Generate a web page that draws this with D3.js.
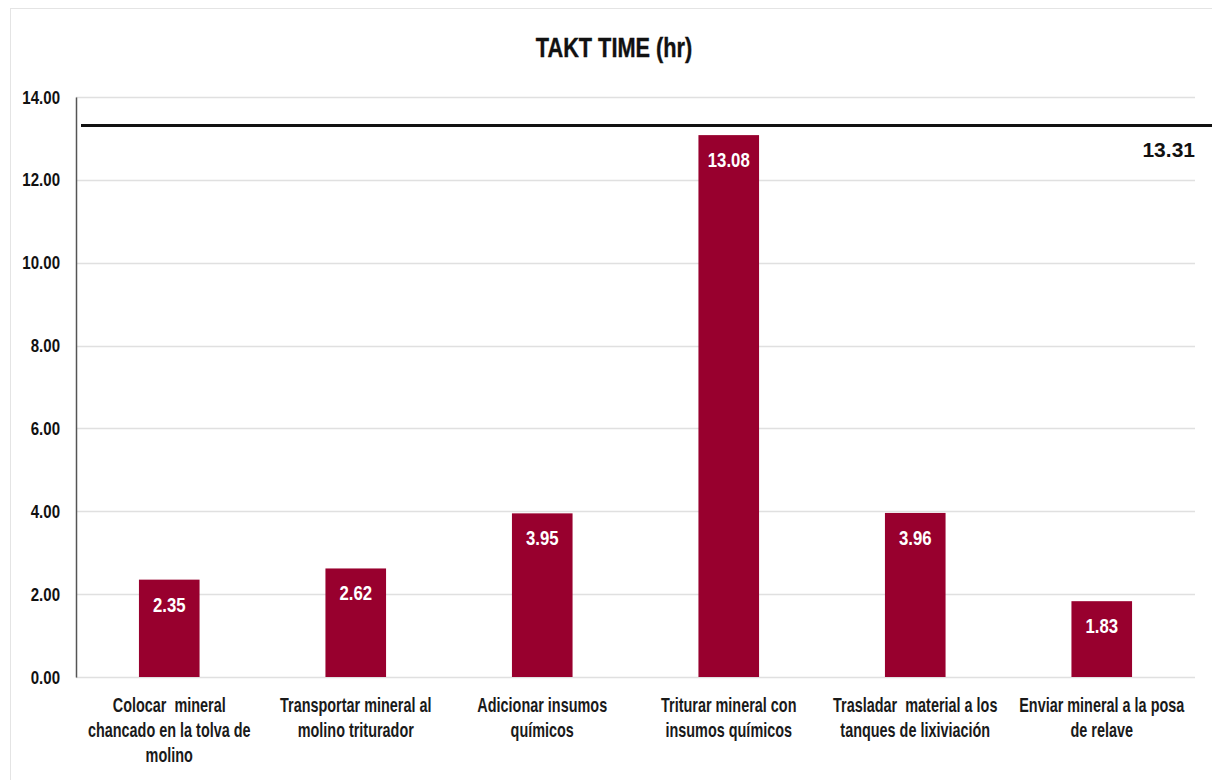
<!DOCTYPE html>
<html>
<head>
<meta charset="utf-8">
<script src="https://cdn.jsdelivr.net/npm/d3@7"></script>
<style>
  html, body { margin: 0; padding: 0; background: #ffffff; }
  svg { display: block; }
</style>
</head>
<body>
<svg id="chart" width="1212" height="780"></svg>
<script>
// Process steps (label lines as they wrap under each bar)
const categories = [
  "Colocar  mineral\nchancado en la tolva de\nmolino",
  "Transportar mineral al\nmolino triturador",
  "Adicionar insumos\nquímicos",
  "Triturar mineral con\ninsumos químicos",
  "Trasladar  material a los\ntanques de lixiviación",
  "Enviar mineral a la posa\nde relave"
];
const cycleTimes = [2.35, 2.62, 3.95, 13.08, 3.96, 1.83];
const taktTime = 13.31;
const yTicks = [0, 2, 4, 6, 8, 10, 12, 14];
const chartTitle = "TAKT TIME (hr)";

const W = 1212, H = 780;
const margin = { left: 76, right: 17, top: 97, bottom: 103 };
const FONT = "'Liberation Sans', Arial, sans-serif";
const svg = d3.select("#chart");

// Light frame around the chart area
svg.append("rect")
  .attr("x", 10.5).attr("y", 8.5)
  .attr("width", W - 10).attr("height", H - 4)
  .attr("fill", "none").attr("stroke", "#e4e4e4").attr("stroke-width", 1);

const x = d3.scaleBand()
  .domain(categories)
  .range([margin.left, W - margin.right])
  .paddingInner(0.675)
  .paddingOuter(0.3375);

const y = d3.scaleLinear()
  .domain([0, 14])
  .range([H - margin.bottom, margin.top]);

// Condensed bold text: placed at (px, py) and squeezed horizontally
function narrowText(sel, px, py, sx, size, anchor) {
  return sel.append("text")
    .attr("transform", `translate(${px},${py}) scale(${sx},1)`)
    .attr("text-anchor", anchor)
    .attr("font-family", FONT)
    .attr("font-weight", "bold")
    .attr("font-size", size);
}

// Title
narrowText(svg, 614, 57, 0.79, 27.5, "middle")
  .attr("fill", "#111")
  .attr("stroke", "#111").attr("stroke-width", 0.4)
  .text(chartTitle);

// Horizontal gridlines
svg.append("g")
  .selectAll("line")
  .data(yTicks)
  .join("line")
  .attr("x1", margin.left).attr("x2", W - margin.right)
  .attr("y1", d => Math.round(y(d)) + 0.5).attr("y2", d => Math.round(y(d)) + 0.5)
  .attr("stroke", "#e0e0e0").attr("stroke-width", 1.5);

// Y axis
const yAxis = d3.axisLeft(y)
  .tickValues(yTicks)
  .tickFormat(d3.format(".2f"))
  .tickSize(0)
  .tickPadding(0);
const gy = svg.append("g")
  .attr("transform", `translate(${margin.left},0)`)
  .call(yAxis);
gy.select(".domain").attr("stroke", "#555").attr("stroke-width", 1.5);
gy.selectAll(".tick text").each(function() {
  const t = d3.select(this);
  const label = t.text();
  const tick = d3.select(this.parentNode);
  t.remove();
  narrowText(tick, -16, 6, 0.86, 17.5, "end")
    .attr("fill", "#111")
    .text(label);
});

// Bars
svg.append("g")
  .selectAll("rect")
  .data(cycleTimes)
  .join("rect")
  .attr("x", (d, i) => x(categories[i]))
  .attr("y", d => y(d))
  .attr("width", x.bandwidth())
  .attr("height", d => y(0) - y(d))
  .attr("fill", "#98002e");

// Value labels inside bars
const valueLayer = svg.append("g");
cycleTimes.forEach((v, i) => {
  narrowText(valueLayer, x(categories[i]) + x.bandwidth() / 2, y(v) + 32, 0.86, 19.5, "middle")
    .attr("fill", "#ffffff")
    .text(d3.format(".2f")(v));
});

// Takt time reference line
svg.append("line")
  .attr("x1", margin.left + 5).attr("x2", W)
  .attr("y1", y(taktTime)).attr("y2", y(taktTime))
  .attr("stroke", "#111").attr("stroke-width", 3);

svg.append("text")
  .attr("x", W - margin.right)
  .attr("y", y(taktTime) + 31)
  .attr("text-anchor", "end")
  .attr("font-family", FONT)
  .attr("font-weight", "bold")
  .attr("font-size", 21)
  .attr("fill", "#111")
  .text(d3.format(".2f")(taktTime));

// Category labels (multi-line, condensed)
const xLabelLayer = svg.append("g");
categories.forEach(c => {
  const t = narrowText(xLabelLayer, x(c) + x.bandwidth() / 2, y(0) + 35, 0.74, 19.5, "middle")
    .attr("fill", "#1a1a1a");
  c.split("\n").forEach((line, k) => {
    t.append("tspan")
      .attr("x", 0)
      .attr("dy", k === 0 ? 0 : 25)
      .attr("xml:space", "preserve")
      .text(line);
  });
});
</script>
</body>
</html>
